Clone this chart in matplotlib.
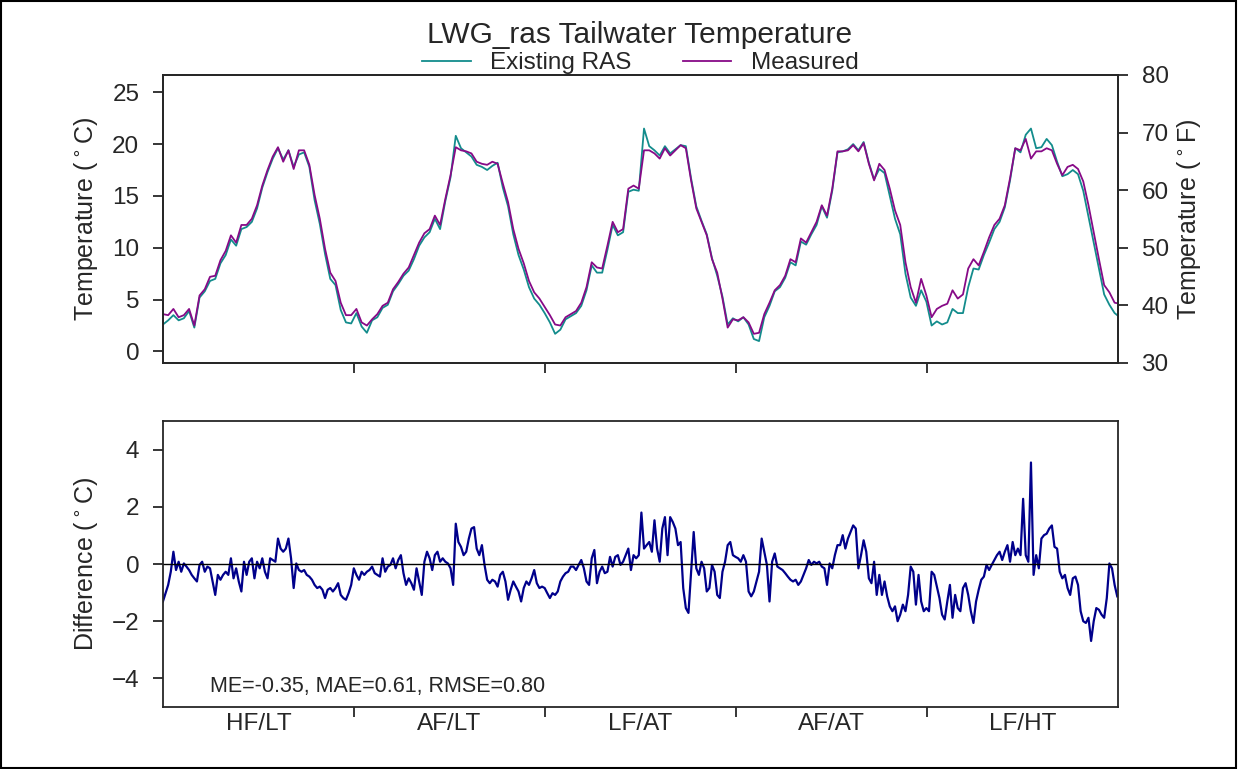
import numpy as np
import matplotlib
matplotlib.use("Agg")
import matplotlib.pyplot as plt
from matplotlib.patches import Rectangle

# flow / temperature condition for each simulated year
year_labels = ["HF/LT", "AF/LT", "LF/AT", "AF/AT", "LF/HT"]

# tailwater temperature (deg C), one value every 10 days
existing_ras = [
    2.6, 3.0, 3.5, 3.0, 3.2, 3.9, 2.3, 5.2, 5.8, 6.8,
    7.0, 8.5, 9.3, 10.8, 10.2, 11.8, 12.0, 12.5, 13.8, 15.8,
    17.3, 18.6, 19.6, 18.5, 19.4, 17.8, 19.0, 19.2, 17.8, 14.6,
    12.3, 9.4, 7.0, 6.4, 4.0, 2.8, 2.7, 3.7, 2.4, 1.8,
    3.0, 3.3, 4.2, 4.5, 5.8, 6.5, 7.3, 7.8, 8.9, 10.2,
    11.0, 11.5, 12.8, 11.8, 14.5, 16.8, 20.8, 19.6, 19.2, 18.8,
    18.0, 17.8, 17.5, 17.9, 18.2, 15.8, 14.0, 11.3, 9.3, 7.9,
    6.2, 5.1, 4.5, 3.7, 2.8, 1.7, 2.1, 3.1, 3.4, 3.7,
    4.4, 5.9, 8.3, 7.6, 7.6, 9.8, 12.2, 11.2, 11.5, 15.4,
    15.6, 15.5, 21.5, 19.8, 19.4, 18.9, 19.8, 19.1, 19.5, 19.9,
    19.8, 16.7, 14.0, 12.6, 11.3, 9.0, 7.3, 5.3, 2.6, 3.2,
    2.9, 3.3, 2.6, 1.2, 1.0, 3.3, 4.4, 5.8, 6.2, 7.1,
    8.6, 8.3, 10.6, 10.3, 11.3, 12.2, 14.0, 12.9, 15.5, 19.2,
    19.3, 19.5, 20.0, 19.4, 20.2, 18.2, 16.6, 17.6, 17.2, 15.0,
    12.8, 11.3, 7.5, 5.2, 4.4, 5.9, 4.8, 2.5, 2.9, 2.6,
    2.8, 4.1, 3.7, 3.7, 6.2, 8.0, 7.9, 9.3, 10.5, 11.8,
    12.5, 13.9, 16.5, 19.6, 19.2, 20.9, 21.5, 19.6, 19.7, 20.5,
    19.9, 18.3, 16.9, 17.1, 17.5, 17.1, 15.5, 13.0, 10.5, 8.0,
    5.5, 4.5, 3.7, 3.3,
]
measured = [
    3.6, 3.5, 4.1, 3.3, 3.5, 4.1, 2.5, 5.4, 6.0, 7.2,
    7.3, 8.8, 9.7, 11.2, 10.5, 12.2, 12.2, 12.8, 14.1, 16.0,
    17.5, 18.8, 19.7, 18.3, 19.4, 17.6, 19.4, 19.4, 18.0, 15.1,
    12.8, 9.9, 7.6, 6.8, 4.7, 3.5, 3.5, 4.1, 2.8, 2.5,
    3.1, 3.6, 4.4, 4.7, 6.0, 6.7, 7.5, 8.1, 9.3, 10.5,
    11.4, 11.8, 13.1, 12.2, 14.7, 17.0, 19.7, 19.4, 19.3, 19.1,
    18.3, 18.1, 18.0, 18.3, 18.1, 16.2, 14.4, 11.8, 9.9, 8.5,
    6.8, 5.7, 5.1, 4.3, 3.5, 2.6, 2.5, 3.3, 3.6, 3.9,
    4.7, 6.2, 8.6, 8.1, 8.0, 10.2, 12.5, 11.5, 11.8, 15.7,
    16.0, 15.7, 19.4, 19.4, 19.1, 18.6, 19.6, 18.9, 19.4, 19.9,
    19.6, 16.5, 13.8, 12.5, 11.2, 8.9, 7.6, 5.1, 2.3, 3.1,
    3.0, 3.3, 2.8, 1.7, 1.8, 3.6, 4.7, 5.9, 6.4, 7.3,
    8.9, 8.6, 10.9, 10.5, 11.5, 12.5, 14.1, 13.1, 15.7, 19.3,
    19.3, 19.4, 19.9, 19.3, 20.1, 18.1, 16.5, 18.1, 17.5, 15.7,
    13.6, 12.2, 8.6, 6.2, 4.7, 7.0, 5.4, 3.3, 4.1, 4.4,
    4.6, 5.9, 5.1, 5.5, 8.0, 8.9, 8.3, 9.6, 11.0, 12.2,
    12.8, 14.1, 16.7, 19.6, 19.4, 20.5, 18.6, 19.3, 19.3, 19.6,
    19.4, 18.1, 17.0, 17.8, 18.0, 17.6, 16.4, 14.1, 11.5, 8.9,
    6.4, 5.7, 4.7, 4.6,
]

# existing RAS minus measured (deg C), one value every 5 days
difference = [
    -1.31, -1.02, -0.73, -0.27, 0.43, -0.21, 0.08, -0.27, 0.02, -0.09,
    -0.21, -0.38, -0.50, -0.61, -0.03, 0.08, -0.27, -0.09, -0.15, -0.61,
    -1.08, -0.38, -0.55, -0.38, -0.27, -0.38, 0.20, -0.50, -0.15, -0.61,
    -0.96, 0.08, -0.38, 0.08, 0.20, -0.50, 0.08, -0.15, 0.20, -0.27,
    -0.50, 0.20, 0.14, 0.08, 0.89, 0.54, 0.43, 0.54, 0.89, 0.20,
    -0.84, 0.02, -0.21, -0.27, -0.21, -0.38, -0.44, -0.55, -0.73, -0.84,
    -0.79, -0.90, -1.19, -0.90, -0.84, -0.96, -0.84, -0.67, -1.08, -1.19,
    -1.25, -1.02, -0.73, -0.15, -0.38, -0.55, -0.27, -0.38, -0.27, -0.21,
    -0.09, -0.32, -0.38, -0.44, 0.20, -0.27, -0.09, -0.03, 0.20, -0.15,
    0.14, 0.31, -0.32, -0.73, -0.50, -0.67, -0.90, -0.15, -0.61, -1.08,
    0.08, 0.43, 0.20, -0.21, 0.31, 0.43, 0.08, 0.20, 0.08, 0.02,
    -0.15, -0.73, 1.41, 0.77, 0.60, 0.31, 0.43, 0.89, 1.24, 1.29,
    0.54, 0.31, 0.66, -0.03, -0.55, -0.67, -0.55, -0.61, -0.79, -0.38,
    -0.27, -0.61, -1.25, -0.90, -0.61, -0.79, -0.96, -1.31, -0.84, -0.61,
    -0.73, -0.50, -0.21, -0.67, -0.84, -0.79, -0.84, -1.02, -1.19, -1.02,
    -1.08, -0.96, -0.61, -0.44, -0.32, -0.27, -0.09, -0.09, -0.21, -0.03,
    0.14, -0.15, -0.61, -0.73, 0.20, 0.49, -0.67, -0.27, -0.09, -0.32,
    -0.27, 0.25, -0.09, 0.25, 0.31, -0.03, 0.08, 0.31, 0.54, -0.21,
    0.31, 0.20,
    0.31, 1.80, 0.54, 0.66, 0.77, 0.43, 1.53, 0.54, 0.08, 1.24,
    1.64, 0.31, 1.64, 1.47, 1.24, 0.66, 0.77, -0.84, -1.54, -1.71,
    -0.27, 1.12, -0.15, -0.38, 0.08, -0.15, -0.96, -0.84, -0.03, -0.27,
    -1.08, -1.19, -0.27, 0.08, 0.66, 0.77, 0.31, 0.25, 0.20, 0.08,
    0.31, 0.08, -0.96, -1.13, -0.96, -0.61, -0.27, 0.89, 0.43, -0.03,
    -1.31, 0.08, 0.37, -0.09, -0.15, -0.21, -0.32, -0.44, -0.55, -0.61,
    -0.55, -0.73, -0.61, -0.38, -0.15, 0.14, -0.03, 0.08, 0.02, 0.08,
    -0.09, -0.15, -0.73, 0.02, -0.15, 0.31, 0.66, 0.66, 1.01, 0.54,
    0.89, 1.12, 1.35, 1.24, -0.15, 0.31, 0.83, 0.43, -0.50, -0.67,
    0.08, -1.08,
    -0.38, -1.08, -0.61, -1.13, -1.48, -1.65, -1.48, -2.00, -1.77, -1.42,
    -1.65, -1.08, -0.09, -0.27, -1.42, -0.38, -1.31, -1.65, -1.54, -1.65,
    -0.27, -0.38, -0.79, -1.19, -1.77, -1.94, -1.31, -0.73, -1.88, -1.08,
    -1.54, -1.65, -0.84, -0.67, -1.08, -1.65, -2.06, -1.31, -0.90, -0.55,
    -0.44, -0.03, -0.21, -0.03, 0.14, 0.31, 0.43, 0.14, 0.43, 0.66,
    0.08, 0.77, 0.31, 0.54, 0.31, 2.28, 0.31, 0.08, 3.55, -0.38,
    0.31, -0.15, 0.89, 1.01, 1.06, 1.24, 1.35, 0.60, 0.54, -0.27,
    -0.50, -0.38, -0.84, -1.08, -0.50, -0.44, -0.73, -1.65, -2.00, -2.06,
    -1.88, -2.69, -2.00, -1.54, -1.60, -1.77, -1.88, -1.19, 0.02, -0.15,
    -0.73, -1.13,
]

stats_text = "ME=-0.35, MAE=0.61, RMSE=0.80"


def plot_data(fig: plt.Figure) -> None:
    '''
    [PLOT_DATA] top panel: modelled vs measured tailwater temperature with
    a Fahrenheit twin axis. bottom panel: model minus measured difference.
    '''
    ink = "#262626"
    year_len = 365.25
    n_years = len(year_labels)
    days_temp = np.arange(len(measured)) * 10
    days_diff = np.arange(len(difference)) * 5
    year_edges = [year_len * k for k in range(1, n_years)]
    year_mids = [year_len * (k + 0.5) for k in range(n_years)]

    ax1 = fig.add_axes([0.1313, 0.528, 0.7695, 0.3745])
    ax2 = fig.add_axes([0.1313, 0.0806, 0.7695, 0.3719])

    ax1.plot(days_temp, existing_ras, color="#138c8c", lw=1.3,
             label="Existing RAS")
    ax1.plot(days_temp, measured, color="#870a87", lw=1.3, label="Measured")
    ax1.set_xlim(0, year_len * n_years)
    ax1.set_ylim((30 - 32) / 1.8, (80 - 32) / 1.8)
    ax1.set_yticks(range(0, 30, 5))
    ax1.set_ylabel("Temperature ($^\\circ$C)")

    ax1r = ax1.twinx()
    ax1r.set_ylim(30, 80)
    ax1r.set_yticks(range(30, 90, 10))
    ax1r.set_ylabel("Temperature ($^\\circ$F)")

    leg = ax1.legend(loc="center", bbox_to_anchor=(0.5, 1.04), ncol=2,
                     frameon=False, handlelength=2.0, handletextpad=0.8,
                     columnspacing=2.1, borderpad=0, fontsize=17.5)
    for text in leg.get_texts():
        text.set_color(ink)
    fig.text(0.5155, 0.9545, "LWG_ras Tailwater Temperature", ha="center",
             va="center", fontsize=21.5, color=ink)

    ax2.plot(days_diff, difference, color="#00008b", lw=1.6)
    ax2.axhline(0, color="black", lw=1.0)
    ax2.set_xlim(0, year_len * n_years)
    ax2.set_ylim(-5, 5)
    ax2.set_yticks(range(-4, 5, 2))
    ax2.set_ylabel("Difference ($^\\circ$C)")
    ax2.text(0.049, 0.07, stats_text, transform=ax2.transAxes,
             ha="left", va="center", fontsize=15.5, color=ink)

    for ax in (ax1, ax2):
        ax.set_xticks(year_edges)
        ax.set_xticklabels([])
        ax.set_xticks(year_mids, minor=True)
        ax.tick_params(axis="x", which="minor", length=0)
    ax1.set_xticklabels([], minor=True)
    ax2.set_xticklabels(year_labels, minor=True)

    for ax in (ax1, ax1r, ax2):
        ax.tick_params(which="major", direction="out", length=7, width=1.3,
                       labelsize=17.5, colors=ink)
        ax.tick_params(axis="y", which="major", pad=10)
        ax.tick_params(which="minor", labelsize=17.5, colors=ink, pad=4)
        for spine in ax.spines.values():
            spine.set_color(ink)
            spine.set_linewidth(1.3)
        ax.yaxis.label.set_size(18)
        ax.yaxis.label.set_color(ink)

    ax1.yaxis.set_label_coords(-0.066, 0.5)
    ax2.yaxis.set_label_coords(-0.066, 0.5)
    ax1r.yaxis.set_label_coords(1.06, 0.5)

    fig.patches.append(Rectangle((0.001, 0.001), 0.995, 0.998,
                                 transform=fig.transFigure, fill=False,
                                 edgecolor="black", lw=1.5))


def main():
    plt.rcParams["font.family"] = ["Liberation Sans", "DejaVu Sans"]
    fig = plt.figure(figsize=(12.41, 7.69), dpi=100)
    plot_data(fig)
    fig.savefig("out.png", dpi=100)
    plt.close("all")


if __name__ == "__main__":
    main()
